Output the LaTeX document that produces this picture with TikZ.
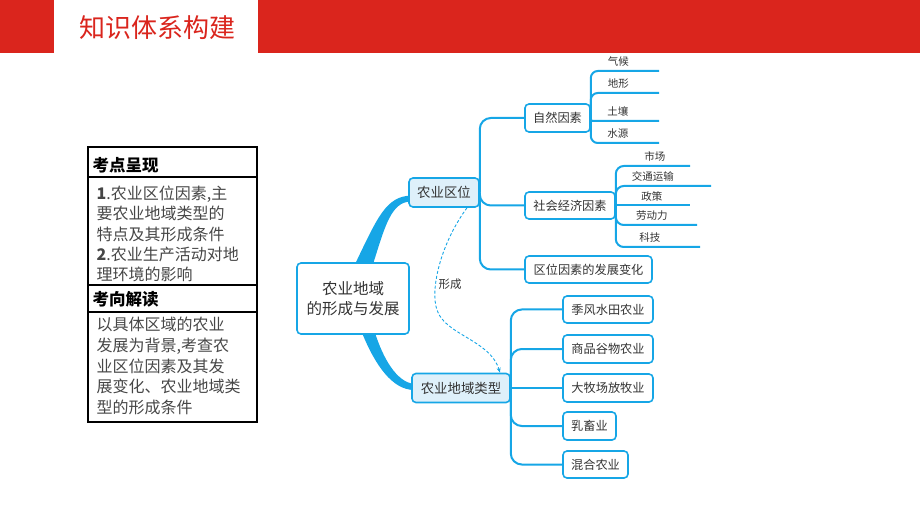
\documentclass[tikz,border=0pt]{standalone}
\usepackage{fontspec}
\setmainfont{Noto Sans CJK SC}
\usetikzlibrary{arrows.meta,calc}
\pgfdeclarelayer{bg}
\pgfsetlayers{bg,main}
\definecolor{hred}{RGB}{218,37,29}
\definecolor{mblue}{RGB}{22,166,230}
\definecolor{mfill}{RGB}{222,240,250}
\definecolor{ttext}{RGB}{51,51,51}
\definecolor{tbody}{RGB}{70,70,70}
\begin{document}
\begin{tikzpicture}[x=1pt,y=-1pt,
  mbox/.style={draw=mblue,line width=1.6pt,rounded corners=4pt,fill=white,text=ttext,inner sep=0pt,font=\fontsize{12.2}{14}\selectfont},
  hbox/.style={mbox,fill=mfill,font=\fontsize{13.4}{16}\selectfont},
  leaf/.style={inner sep=0pt,minimum height=18pt,anchor=south east,text=ttext,font=\fontsize{10.5}{12}\selectfont},
  br/.style={draw=mblue,line width=2pt,rounded corners=#1},
  br/.default=11pt,
  tline/.style={line width=1.2pt},
  thead/.style={anchor=west,inner sep=0pt,text=black,font=\fontsize{16.5}{18}\selectfont\bfseries},
  tbodyst/.style={anchor=west,inner sep=0pt,align=left,text=tbody},
]
\useasboundingbox (0,0) rectangle (920,518);
% header band
\fill[hred] (0,0) rectangle (920,53.5);
\fill[white] (54,0) rectangle (258,53.5);
\node[text=hred,font=\fontsize{26}{30}\selectfont,inner sep=0pt] (title) at (157,28) {知识体系构建};

% left table
\draw[line width=2.5pt] (88,147) rectangle (257,422);
\draw[tline] (88,177) -- (257,177);
\draw[tline] (88,285) -- (257,285);
\draw[tline] (88,312) -- (257,312);
\node[thead] (kd) at (92.5,165) {考点呈现};
\node[tbodyst,font=\fontsize{16}{20.3}\selectfont] (kdt) at (96.5,234) {{\bfseries 1}.农业区位因素,主\\要农业地域类型的\\特点及其形成条件\\{\bfseries 2}.农业生产活动对地\\理环境的影响};
\node[thead] (kx) at (92.5,299) {考向解读};
\node[tbodyst,font=\fontsize{16}{20.7}\selectfont] (kxt) at (96.5,366) {以具体区域的农业\\发展为背景,考查农\\业区位因素及其发\\展变化、农业地域类\\型的形成条件};

% mind map nodes
\node[mbox,minimum width=112pt,minimum height=71pt,align=center,font=\fontsize{15.5}{19.5}\selectfont] (cn) at (353,298.5) {农业地域\\的形成与发展};
\node[hbox,minimum width=70pt,minimum height=29pt] (nq) at (444,192.5) {农业区位};
\node[hbox,minimum width=98pt,minimum height=29pt] (nt) at (461,388) {农业地域类型};

\node[mbox,minimum width=65pt,minimum height=28pt] (zr) at (557.5,118) {自然因素};
\node[mbox,minimum width=90pt,minimum height=27pt] (sh) at (570,205.5) {社会经济因素};
\node[mbox,minimum width=127pt,minimum height=27pt] (qw) at (588.5,269.5) {区位因素的发展变化};

\node[mbox,minimum width=90pt,minimum height=27pt] (t1) at (608,309.5) {季风水田农业};
\node[mbox,minimum width=90pt,minimum height=28pt] (t2) at (608,349) {商品谷物农业};
\node[mbox,minimum width=90pt,minimum height=28pt] (t3) at (608,388) {大牧场放牧业};
\node[mbox,minimum width=53pt,minimum height=28pt] (t4) at (589.5,426) {乳畜业};
\node[mbox,minimum width=65pt,minimum height=27pt] (t5) at (595.5,464.5) {混合农业};

% leaves of 自然因素
\node[leaf,minimum width=81pt] (qh) at (659,71) {气候};
\node[leaf,minimum width=81pt] (dx) at (659,93) {地形};
\node[leaf,minimum width=82pt] (tr) at (659,121) {土壤};
\node[leaf,minimum width=82pt] (sy) at (659,143) {水源};
% leaves of 社会经济因素
\node[leaf,minimum width=70pt] (sc) at (690,166) {市场};
\node[leaf,minimum width=116pt] (jt) at (711,186) {交通运输};
\node[leaf,minimum width=76pt] (zc) at (690,205.5) {政策};
\node[leaf,minimum width=90pt] (ld) at (697,225) {劳动力};
\node[leaf,minimum width=100pt] (kj) at (700,247) {科技};

% tree connectors
\draw[br] (nq.east) |- (zr.west);
\draw[br] (nq.east) |- (sh.west);
\draw[br] (nq.east) |- (qw.west);

\draw[br] (nt.east) |- (t1.west);
\draw[br] (nt.east) |- (t2.west);
\draw[br] (nt.east) -- (t3.west);
\draw[br] (nt.east) |- (t4.west);
\draw[br] (nt.east) |- (t5.west);

\draw[br=7pt] (zr.east) |- (qh.south east);
\draw[br=7pt] (zr.east) |- (dx.south east);
\draw[br=2pt] (zr.east) |- (tr.south east);
\draw[br=7pt] (zr.east) |- (sy.south east);

\draw[br=8pt] (sh.east) |- (sc.south east);
\draw[br=8pt] (sh.east) |- (jt.south east);
\draw[br] (sh.east) -- (zc.south east);
\draw[br=8pt] (sh.east) |- (ld.south east);
\draw[br=8pt] (sh.east) |- (kj.south east);

% tapered main branches
\begin{pgfonlayer}{bg}
\fill[mblue] ($(cn.north)+(2,2)$) .. controls +(23,-48) and +(-25,1) .. ($(nq.west)+(3,3)$)
  -- ($(nq.west)+(3,9)$) .. controls +(-20,0) and +(12,-38) .. ($(cn.north)+(20,2)$) -- cycle;
\fill[mblue] ($(cn.south)+(9,-2)$) .. controls +(13,32) and +(-22,0) .. ($(nt.west)+(3,2)$)
  -- ($(nt.west)+(3,-4)$) .. controls +(-18,-2) and +(8,25) .. ($(cn.south)+(22,-2)$) -- cycle;
\end{pgfonlayer}

% dashed "形成" arrow
\coordinate (fm) at (437,310);
\draw[mblue,line width=0.9pt,dash pattern=on 3pt off 2pt,-{Stealth[length=5pt,width=4pt]}]
  ($(nq.south)+(23,0)$) .. controls +(-27,37) and +(-7,-20) .. (fm)
  .. controls +(8,25) and +(-10,-33) .. ($(nt.north)+(39,0)$);
\node[text=ttext,font=\fontsize{11.5}{13}\selectfont,inner sep=0pt] (xc) at (450,284) {形成};
\end{tikzpicture}
\end{document}
